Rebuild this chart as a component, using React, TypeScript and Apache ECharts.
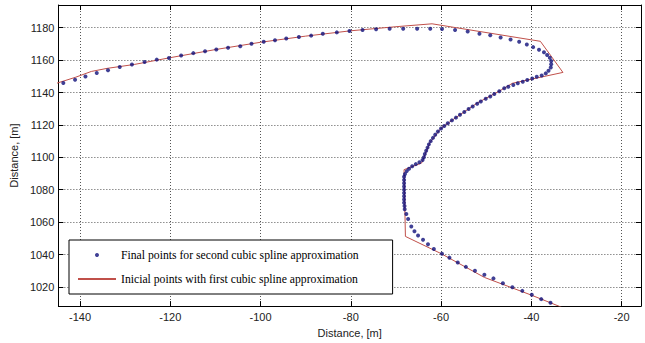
import { useEffect, useRef } from "react";
import * as echarts from "echarts";

// Final points for second cubic spline approximation (blue dots)
const finalX = [
  -143.7, -141.1, -138.8, -136.3, -133.8, -131.2, -128.5, -125.7, -123.0, -120.3,
  -117.6, -114.9, -112.3, -109.8, -107.2, -104.5, -102.0, -99.3, -96.8, -94.3,
  -91.5, -88.8, -86.2, -83.1, -80.3, -77.4, -74.4, -71.4, -68.4, -65.3,
  -62.4, -59.8, -56.9, -54.1, -51.5, -49.1, -46.8, -44.6, -42.7, -41.0,
  -39.6, -38.3, -37.2, -36.5, -35.9, -35.6, -35.6, -35.7, -36.2, -36.8,
  -37.7, -38.8, -39.8, -40.9, -41.9, -43.0, -44.0, -45.1, -46.0, -47.1,
  -48.2, -49.1, -50.1, -51.2, -52.0, -53.0, -53.9, -54.85, -55.8, -56.7,
  -57.6, -58.5, -59.3, -60.0, -60.7, -61.3, -61.8, -62.3, -62.7, -63.0,
  -63.3, -63.6, -63.8, -64.1, -64.8, -65.6, -66.4, -67.1, -67.6, -68.0,
  -68.2, -68.2, -68.2, -68.2, -68.2, -68.2, -68.2, -68.2, -68.2, -68.1,
  -68.06, -67.7, -67.3, -66.6, -65.9, -65.1, -64.0, -62.9, -61.6, -59.8,
  -58.15, -56.3, -54.5, -52.5, -50.4, -48.4, -46.3, -44.2, -42.0, -39.9,
  -37.8, -35.75, -33.7,
];
const finalY = [
  1145.9, 1147.9, 1149.9, 1152.0, 1153.8, 1155.8, 1157.3, 1158.8, 1160.3, 1161.3,
  1162.9, 1164.3, 1165.4, 1166.6, 1167.6, 1168.6, 1170.1, 1171.3, 1172.3, 1173.3,
  1174.3, 1175.1, 1176.2, 1177.1, 1178.0, 1178.6, 1179.0, 1179.4, 1179.4, 1179.4,
  1179.4, 1179.2, 1178.6, 1177.7, 1176.3, 1175.3, 1173.9, 1172.7, 1171.3, 1169.6,
  1168.0, 1166.4, 1164.9, 1163.1, 1161.5, 1159.5, 1157.4, 1155.4, 1153.4, 1151.8,
  1150.5, 1149.7, 1148.7, 1147.7, 1146.6, 1145.7, 1144.6, 1143.6, 1142.6, 1140.8,
  1139.1, 1137.5, 1136.1, 1134.5, 1133.0, 1131.4, 1129.8, 1128.0, 1126.3, 1124.5,
  1122.8, 1121.0, 1119.3, 1117.8, 1116.0, 1114.0, 1112.0, 1110.0, 1108.0, 1106.0,
  1104.0, 1102.0, 1100.0, 1098.3, 1097.0, 1095.8, 1094.5, 1093.0, 1091.5, 1089.7,
  1088.0, 1086.0, 1084.0, 1082.0, 1080.0, 1078.0, 1076.0, 1074.0, 1072.0, 1070.0,
  1068.0, 1065.0, 1061.9, 1057.3, 1054.4, 1051.8, 1049.1, 1046.3, 1043.4, 1040.55,
  1038.1, 1035.1, 1032.4, 1030.0, 1027.6, 1025.3, 1022.3, 1019.8, 1017.6, 1015.2,
  1012.5, 1010.3, 1008.05,
];

// Inicial points with first cubic spline approximation (red line)
const initialX = [
  -146, -141, -137.5, -134, -128, -120, -110, -100, -90, -80, -70, -62,
  -38, -33, -44.2, -47, -52, -57, -60, -62.5, -64, -64.3, -68.2, -67.9,
  -60, -50.4, -40.2, -33.3,
];
const initialY = [
  1145, 1149.4, 1153, 1154.9, 1157.3, 1161.5, 1166.5, 1171, 1174.8, 1178.1, 1180.6, 1182.4,
  1171.6, 1152.4, 1145.7, 1141, 1133.5, 1124, 1118, 1109, 1098.5, 1096.5, 1092.4, 1051.2,
  1040.6, 1025.9, 1015.2, 1007.5,
];

const seriesNames = [
  "Final points for second cubic spline approximation",
  "Inicial points with first cubic spline approximation",
];
const axisTitle = "Distance, [m]";

const X_MIN = -144.8;
const X_MAX = -15.7;
const Y_MIN = 1008.2;
const Y_MAX = 1194;

export default function App() {
  const ref = useRef<HTMLDivElement>(null);
  useEffect(() => {
    if (!ref.current) return;
    const chart = echarts.init(ref.current, undefined, { renderer: "svg" });
    const sans = '"Liberation Sans", Arial, sans-serif';
    const tickStyle = { show: true, inside: true, length: 5, lineStyle: { color: "#000", width: 1 } };
    const axisLine = { show: true, onZero: false, lineStyle: { color: "#000", width: 1 } };
    const split = { show: true, lineStyle: { color: "#555", width: 1, type: [1, 2] as any } };
    const label = {
      color: "#222",
      fontSize: 11,
      fontFamily: sans,
      showMinLabel: false,
      showMaxLabel: false,
      formatter: (v: number) => String(v),
    };
    chart.setOption({
      animation: false,
      backgroundColor: "#fff",
      grid: { left: 55, right: 4, top: 5, bottom: 33, containLabel: false },
      legend: {
        orient: "vertical",
        left: 69,
        top: 240,
        backgroundColor: "#fff",
        borderColor: "#000",
        borderWidth: 1,
        borderRadius: 0,
        padding: [9, 34, 9, 8],
        itemWidth: 38,
        itemHeight: 4,
        itemGap: 12,
        textStyle: { fontFamily: '"Liberation Serif", "Times New Roman", serif', fontSize: 11.7, color: "#000" },
        data: [
          { name: seriesNames[0] },
          { name: seriesNames[1], itemStyle: { opacity: 0 } },
        ],
      },
      xAxis: [
        {
          type: "value",
          position: "bottom",
          min: X_MIN,
          max: X_MAX,
          splitNumber: 6,
          axisLine,
          axisTick: tickStyle,
          axisLabel: { ...label, margin: 5 },
          splitLine: split,
          name: axisTitle,
          nameLocation: "middle",
          nameGap: 16,
          nameTextStyle: { color: "#222", fontSize: 11, fontFamily: sans },
        },
        {
          type: "value",
          position: "top",
          min: X_MIN,
          max: X_MAX,
          splitNumber: 6,
          axisLine,
          axisTick: tickStyle,
          axisLabel: { show: false },
          splitLine: { show: false },
        },
      ],
      yAxis: [
        {
          type: "value",
          position: "left",
          min: Y_MIN,
          max: Y_MAX,
          splitNumber: 9,
          axisLine,
          axisTick: tickStyle,
          axisLabel: { ...label, margin: 4 },
          splitLine: split,
          name: axisTitle,
          nameLocation: "middle",
          nameGap: 25,
          nameTextStyle: { color: "#222", fontSize: 11, fontFamily: sans },
        },
        {
          type: "value",
          position: "right",
          min: Y_MIN,
          max: Y_MAX,
          splitNumber: 9,
          axisLine,
          axisTick: tickStyle,
          axisLabel: { show: false },
          splitLine: { show: false },
        },
      ],
      series: [
        {
          name: seriesNames[0],
          type: "scatter",
          xAxisIndex: 0,
          yAxisIndex: 0,
          symbol: "circle",
          symbolSize: 4,
          itemStyle: { color: "#10107a" },
          data: finalX.map((x, i) => [x, finalY[i]]),
          z: 3,
        },
        {
          name: seriesNames[1],
          type: "line",
          xAxisIndex: 0,
          yAxisIndex: 0,
          symbol: "none",
          showSymbol: false,
          lineStyle: { color: "#c0504a", width: 1 },
          itemStyle: { color: "#c0504a" },
          data: initialX.map((x, i) => [x, initialY[i]]),
          z: 2,
        },
      ],
    });
    return () => chart.dispose();
  }, []);
  return (
    <div
      ref={ref}
      style={{ position: "absolute", left: 0, top: 0, width: 645, height: 343, background: "#fff" }}
    />
  );
}
